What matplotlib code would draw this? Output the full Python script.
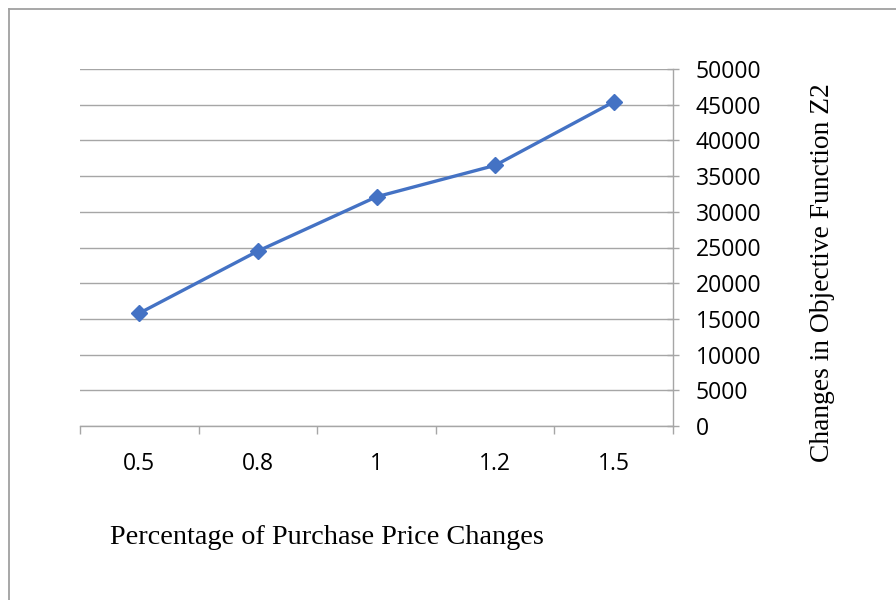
import matplotlib
matplotlib.use("Agg")
import matplotlib.pyplot as plt
from matplotlib.lines import Line2D

categories = ["0.5", "0.8", "1", "1.2", "1.5"]
values = [15800, 24500, 32100, 36500, 45400]
y_ticks = [0, 5000, 10000, 15000, 20000, 25000, 30000, 35000, 40000, 45000, 50000]
x_title = "Percentage of Purchase Price Changes"
y_title = "Changes in Objective Function Z2"

W, H = 896, 600
fig = plt.figure(figsize=(W / 100, H / 100), dpi=100)
fig.patch.set_facecolor("white")

grid_c = "#A6A6A6"
ax = fig.add_axes([80 / W, 1 - 426 / H, (673 - 80) / W, (426 - 69) / H])
x = list(range(len(categories)))
ax.plot(x, values, color="#4472C4", linewidth=2.4, marker="D", markersize=8.5,
        markerfacecolor="#4472C4", markeredgecolor="#4472C4", zorder=3, clip_on=False)

ax.set_xlim(-0.5, len(categories) - 0.5)
ax.set_ylim(0, 50000)
ax.set_yticks(y_ticks)
ax.set_yticklabels([str(v) for v in y_ticks])
ax.yaxis.tick_right()
ax.set_xticks(x)
ax.set_xticklabels(categories)
ax.set_xticks([i - 0.5 for i in range(len(categories) + 1)], minor=True)
ax.grid(axis="y", color=grid_c, linewidth=1.0)
ax.set_axisbelow(True)

for s in ["top", "left"]:
    ax.spines[s].set_visible(False)
for s in ["right", "bottom"]:
    ax.spines[s].set_color(grid_c)
    ax.spines[s].set_linewidth(1.0)

ax.tick_params(axis="x", which="major", length=0, pad=19, labelsize=16.5)
ax.tick_params(axis="x", which="minor", direction="out", length=6, color=grid_c, width=1.0)
ax.tick_params(axis="y", which="major", direction="inout", length=9, color=grid_c, width=1.0,
               pad=12, labelsize=16.5)
for lab in ax.get_xticklabels() + ax.get_yticklabels():
    lab.set_fontfamily(["Open Sans", "DejaVu Sans"])
    lab.set_color("#000000")

serif = ["Liberation Serif", "DejaVu Serif"]
fig.text(110 / W, 1 - 537 / H, x_title, ha="left", va="center", fontsize=20.3, family=serif)
fig.text(822 / W, 1 - 273 / H, y_title, ha="center", va="center", rotation=90,
         fontsize=19.8, family=serif)

border_c = "#A0A0A0"
fig.add_artist(Line2D([8.5 / W, 8.5 / W], [0, 1 - 8.5 / H], transform=fig.transFigure,
                      color=border_c, linewidth=1.3))
fig.add_artist(Line2D([8.5 / W, 1], [1 - 8.5 / H, 1 - 8.5 / H], transform=fig.transFigure,
                      color=border_c, linewidth=1.3))

fig.savefig("out.png", dpi=100, facecolor="white")
